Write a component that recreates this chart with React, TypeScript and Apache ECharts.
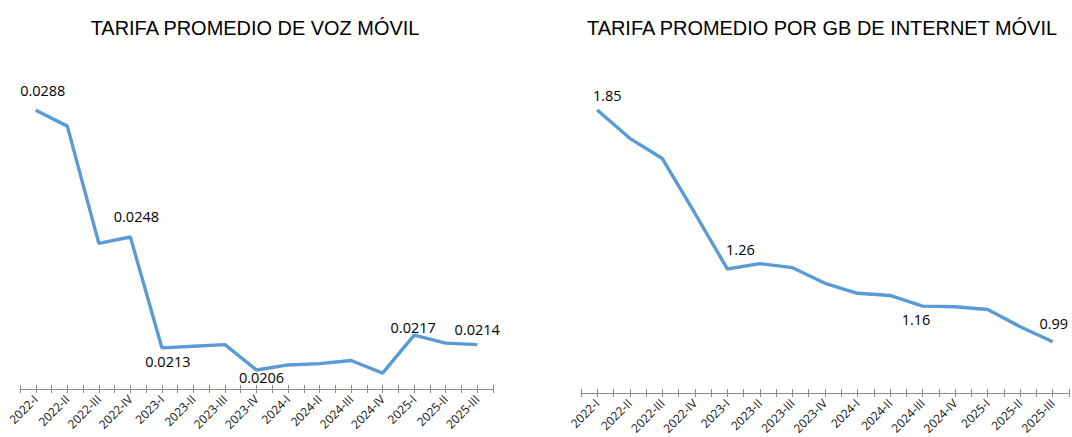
import React, { useEffect, useRef } from "react";
import * as echarts from "echarts";

const categories = [
  "2022-I", "2022-II", "2022-III", "2022-IV",
  "2023-I", "2023-II", "2023-III", "2023-IV",
  "2024-I", "2024-II", "2024-III", "2024-IV",
  "2025-I", "2025-II", "2025-III",
];

const vozValues = [
  0.0288, 0.0283, 0.0246, 0.0248,
  0.0213, 0.02135, 0.0214, 0.0206,
  0.02076, 0.0208, 0.0209, 0.0205,
  0.0217, 0.02145, 0.0214,
];

const internetValues = [
  1.85, 1.745, 1.67, 1.467,
  1.26, 1.28, 1.265, 1.207,
  1.17, 1.162, 1.1225, 1.12,
  1.11, 1.046, 0.99,
];

const vozTitle = "TARIFA PROMEDIO DE VOZ MÓVIL";
const internetTitle = "TARIFA PROMEDIO POR GB DE INTERNET MÓVIL";

// which points carry a data label, with the label offset from the point
const vozLabels: Record<number, [number, number]> = {
  0: [7, -20],
  3: [6, -20],
  4: [6, 14],
  7: [5, 8],
  12: [-1, -8],
  14: [0, -15],
};
const internetLabels: Record<number, [number, number]> = {
  0: [10, -15],
  4: [13, -20],
  9: [26, 24],
  14: [1, -18],
};

const LINE = "#5B9BD5";
const AXIS = "#8C8C8C";
const FONT = "'Open Sans', 'Noto Sans', sans-serif";

const tickCats = Array.from({ length: 31 }, (_, i) => String(i));

function buildData(values: number[], labels: Record<number, [number, number]>, digits: number) {
  return values.map((v, i) => {
    const off = labels[i];
    if (!off) return { value: v, label: { show: false } };
    return {
      value: v,
      label: {
        show: true,
        position: "inside",
        offset: off,
        formatter: () => v.toFixed(digits),
        fontFamily: FONT,
        fontSize: 14.5,
        color: "#000",
      },
    };
  });
}

export default function App() {
  const ref = useRef<HTMLDivElement>(null);
  useEffect(() => {
    if (!ref.current) return;
    const chart = echarts.init(ref.current, undefined, { renderer: "svg" });

    const grids = [
      { left: 20, width: 473, top: 72.3, height: 316.7 },
      { left: 581, width: 488, top: 69.6, height: 323.4 },
    ];

    const xAxes: any[] = [];
    const yAxes: any[] = [];
    [0, 1].forEach((g) => {
      xAxes.push({
        type: "category",
        gridIndex: g,
        position: "bottom",
        data: categories,
        boundaryGap: true,
        axisLine: { show: true, lineStyle: { color: AXIS, width: 1 } },
        axisTick: { show: false },
        axisLabel: {
          interval: 0,
          rotate: 45,
          margin: 8,
          fontFamily: FONT,
          fontSize: 12,
          color: "#111",
        },
      });
      [false, true].forEach((inside) => {
        xAxes.push({
          type: "category",
          gridIndex: g,
          position: "bottom",
          data: tickCats,
          boundaryGap: false,
          axisLine: { show: false },
          axisTick: {
            show: true,
            inside,
            length: 4,
            interval: 0,
            lineStyle: { color: AXIS, width: 1 },
          },
          axisLabel: { show: false },
        });
      });
      yAxes.push({
        type: "value",
        gridIndex: g,
        min: g === 0 ? 0.02 : 0.8,
        max: g === 0 ? 0.03 : 2.0,
        show: false,
        splitLine: { show: false },
      });
    });

    const seriesBase = {
      type: "line",
      symbol: "circle",
      symbolSize: 1,
      showSymbol: true,
      showAllSymbol: true,
      itemStyle: { color: "rgba(0,0,0,0)", borderWidth: 0 },
      lineStyle: { color: LINE, width: 3.4 },
      emphasis: { disabled: true },
      silent: true,
    };

    chart.setOption({
      animation: false,
      backgroundColor: "#ffffff",
      grid: grids,
      xAxis: xAxes,
      yAxis: yAxes,
      series: [
        {
          ...seriesBase,
          xAxisIndex: 0,
          yAxisIndex: 0,
          data: buildData(vozValues, vozLabels, 4),
        },
        {
          ...seriesBase,
          xAxisIndex: 3,
          yAxisIndex: 1,
          data: buildData(internetValues, internetLabels, 2),
        },
      ],
      graphic: [
        {
          type: "text",
          x: 255,
          y: 27.5,
          scaleX: 0.95,
          style: {
            text: vozTitle,
            align: "center",
            verticalAlign: "middle",
            fontFamily: "'Liberation Sans', Arial, sans-serif",
            fontSize: 21,
            fill: "#000",
          },
        },
        {
          type: "text",
          x: 822,
          y: 27.5,
          scaleX: 0.95,
          style: {
            text: internetTitle,
            align: "center",
            verticalAlign: "middle",
            fontFamily: "'Liberation Sans', Arial, sans-serif",
            fontSize: 21,
            fill: "#000",
          },
        },
      ],
    });
    return () => chart.dispose();
  }, []);

  return (
    <div
      ref={ref}
      style={{ position: "fixed", left: 0, top: 0, width: 1072, height: 437, background: "#fff" }}
    />
  );
}
